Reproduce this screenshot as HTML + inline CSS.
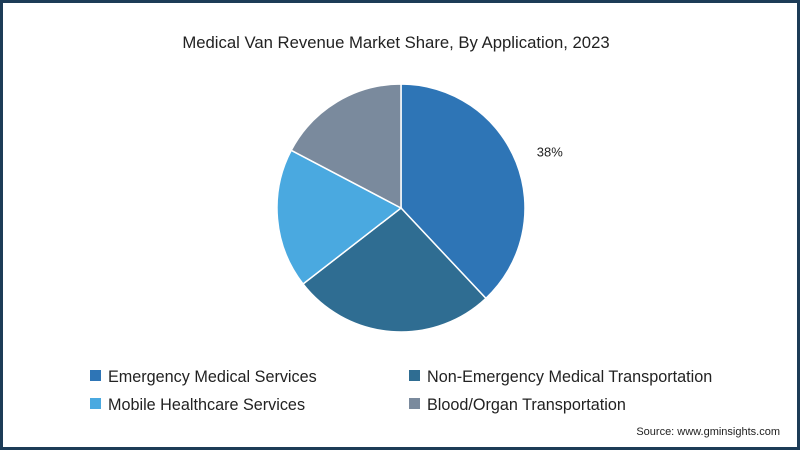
<!DOCTYPE html>
<html><head><meta charset="utf-8"><style>
html,body{margin:0;padding:0;}
body{width:800px;height:450px;overflow:hidden;background:#fff;font-family:"Liberation Sans",sans-serif;}
#frame{position:absolute;left:0;top:0;width:794px;height:444px;border:3px solid #1d3c57;background:#fff;}
.t{position:absolute;white-space:nowrap;color:#222;}
</style></head><body>
<div id="frame"></div>
<div class="t" style="left:0;width:792px;text-align:center;top:33px;font-size:16.7px;">Medical Van Revenue Market Share, By Application, 2023</div>
<svg id="pie" width="800" height="450" style="position:absolute;left:0;top:0"></svg>
<div class="t" style="right:20px;top:426px;font-size:11px;">Source: www.gminsights.com</div>
<script>
const categories=["Emergency Medical Services","Non-Emergency Medical Transportation","Mobile Healthcare Services","Blood/Organ Transportation"];
const values=[38,26.5,18.2,17.3];
const labels=["38%","","",""];
const colors=["#2e75b6","#2f6d92","#4aa9e0","#7a8a9d"];
const svg=document.getElementById('pie');
const NS="http://www.w3.org/2000/svg";
const cx=401,cy=208,r=124;
const total=values.reduce((a,b)=>a+b,0);
let a0=0;
function pt(a,rr){return [cx+rr*Math.sin(a),cy-rr*Math.cos(a)];}
values.forEach((v,i)=>{
  const a1=a0+v/total*2*Math.PI;
  const p0=pt(a0,r),p1=pt(a1,r);
  const large=(a1-a0)>Math.PI?1:0;
  const p=document.createElementNS(NS,'path');
  p.setAttribute('d',`M${cx},${cy}L${p0[0]},${p0[1]}A${r},${r} 0 ${large} 1 ${p1[0]},${p1[1]}Z`);
  p.setAttribute('fill',colors[i]);p.setAttribute('stroke','#fff');p.setAttribute('stroke-width','1.5');
  
  
  svg.appendChild(p);
  if(labels[i]){
    const am=(a0+a1)/2;const lp=pt(am,r+22);
    const t=document.createElementNS(NS,'text');
    t.setAttribute('x',lp[0]);t.setAttribute('y',lp[1]+2);
    t.setAttribute('font-size','13');t.setAttribute('fill','#222');
    t.setAttribute('font-family','Liberation Sans, sans-serif');
    t.textContent=labels[i];
    
    
    svg.appendChild(t);
  }
  a0=a1;
});
const lx=[90,409],ly=[376,404];
categories.forEach((c,i)=>{
  const x=lx[i%2],y=ly[Math.floor(i/2)];
  const r1=document.createElementNS(NS,'rect');
  r1.setAttribute('x',x);r1.setAttribute('y',y-6);r1.setAttribute('width',11);r1.setAttribute('height',11);
  r1.setAttribute('fill',colors[i]);
  
  
  svg.appendChild(r1);
  const t=document.createElementNS(NS,'text');
  t.setAttribute('x',x+18);t.setAttribute('y',y+6);t.setAttribute('font-size','16.2');
  t.setAttribute('fill','#222');t.setAttribute('font-family','Liberation Sans, sans-serif');
  t.textContent=c;
  
  
  svg.appendChild(t);
});
</script>
</body></html>
